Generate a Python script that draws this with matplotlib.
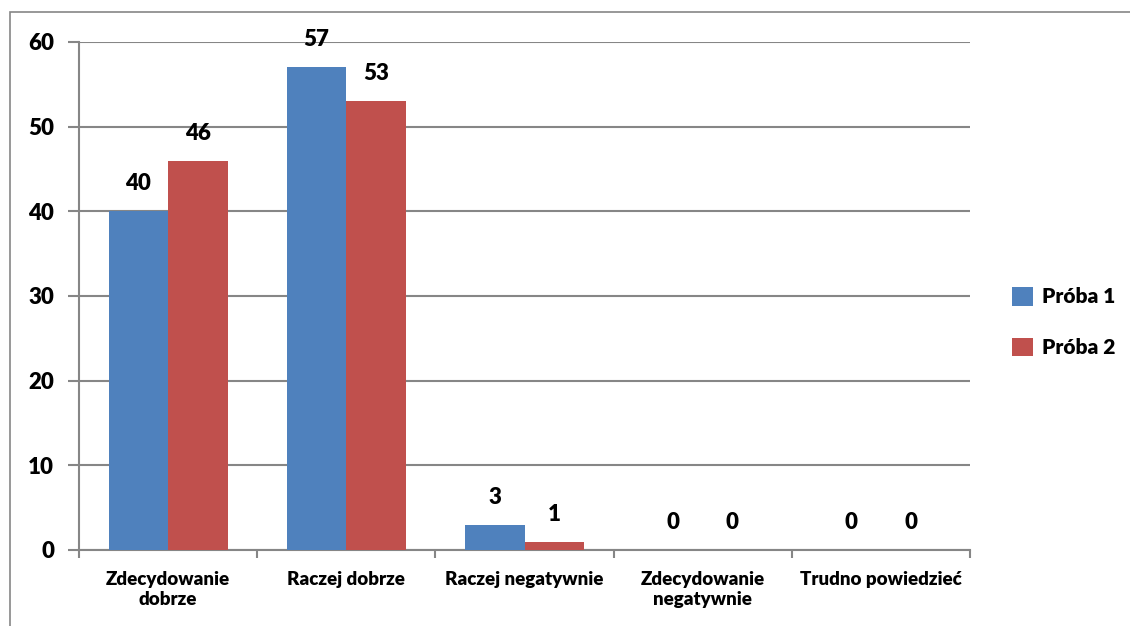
import numpy as np
from matplotlib import pyplot as plt
from matplotlib.patches import Rectangle

plt.rcParams['font.family'] = ['Lato', 'DejaVu Sans']
plt.rcParams['font.weight'] = 'heavy'

categories = ['Zdecydowanie\ndobrze', 'Raczej dobrze', 'Raczej negatywnie',
              'Zdecydowanie\nnegatywnie', 'Trudno powiedzieć']
proba1 = [40, 57, 3, 0, 0]
proba2 = [46, 53, 1, 0, 0]
series_names = ['Próba 1', 'Próba 2']
yticks = [0, 10, 20, 30, 40, 50, 60]

BLUE = '#4F81BD'
RED = '#C0504D'
GRID = '#868686'
WT = 'heavy'

fig = plt.figure(figsize=(11.3, 6.26), dpi=100)
W, H = 1130, 626

# outer chart frame (runs off the right and bottom edge)
fig.patches.append(Rectangle((10 / W, -0.1), 1.2, (626 - 12) / H + 0.1,
                             transform=fig.transFigure, fill=False,
                             edgecolor=GRID, linewidth=1.2))

ax = fig.add_axes([79 / W, (626 - 550) / H, (970 - 79) / W, (550 - 42) / H])

x = np.arange(len(categories))
w = 1 / 3
b1 = ax.bar(x - w / 2, proba1, w, color=BLUE, label=series_names[0], zorder=3)
b2 = ax.bar(x + w / 2, proba2, w, color=RED, label=series_names[1], zorder=3)

for bars, vals in ((b1, proba1), (b2, proba2)):
    for r, v in zip(bars, vals):
        ax.text(r.get_x() + r.get_width() / 2, v + 2.0, str(v),
                ha='center', va='bottom', fontsize=16, fontweight=WT)

ax.set_xlim(-0.5, len(categories) - 0.5)
ax.set_ylim(0, 60)
ax.set_yticks(yticks)
ax.set_yticklabels([str(t) for t in yticks], fontsize=16, fontweight=WT)
ax.yaxis.grid(True, color=GRID, linewidth=1.5, zorder=0)
ax.tick_params(axis='y', direction='out', length=8, width=1.5, color=GRID, pad=10)

ax.set_xticks(np.arange(len(categories) + 1) - 0.5, minor=False)
ax.set_xticklabels([''] * (len(categories) + 1))
ax.tick_params(axis='x', direction='out', length=6, width=1.5, color=GRID)
ax.set_xticks(x, minor=True)
ax.set_xticklabels(categories, minor=True, fontsize=13.5, fontweight=WT,
                   linespacing=1.25)
ax.tick_params(axis='x', which='minor', length=0, pad=15)

for s in ('top', 'right'):
    ax.spines[s].set_visible(False)
for s in ('left', 'bottom'):
    ax.spines[s].set_color(GRID)
    ax.spines[s].set_linewidth(1.5)

ax.legend(loc='center left', bbox_to_anchor=(1012 / W, (626 - 322) / H),
          bbox_transform=fig.transFigure, frameon=False, borderpad=0,
          borderaxespad=0, handlelength=1.0, handleheight=1.0,
          handletextpad=0.45, labelspacing=1.5,
          prop={'weight': WT, 'size': 15})

plt.savefig('out.png', dpi=100)
